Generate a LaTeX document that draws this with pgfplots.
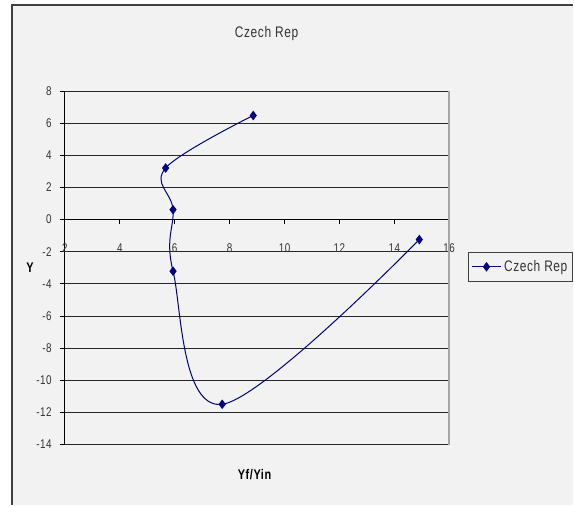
\documentclass[border=0pt]{standalone}
\usepackage{pgfplots}
\pgfplotsset{compat=1.18}
\usepackage{fontspec}
\setmainfont{Liberation Sans}[FakeStretch=0.78, LetterSpace=4]

\definecolor{chartbg}{HTML}{F2F2F2}
\definecolor{framegray}{HTML}{404040}
\definecolor{plotright}{HTML}{A6A6A6}
\definecolor{seriesblue}{HTML}{000080}

% Yf/Yin against Y
\pgfplotstableread{
x y
8.86 6.48
5.67 3.21
5.94 0.62
5.94 -3.21
7.73 -11.49
14.91 -1.24
}\czechdata

\begin{document}
\begin{tikzpicture}
% page and chart area
\fill[white] (0pt,0pt) rectangle (430.5pt,-379.5pt);
\fill[chartbg] (9.375pt,-3.75pt) rectangle (430.5pt,-379.5pt);
\draw[framegray, line width=1.5pt] (9.375pt,-379.5pt) -- (9.375pt,-3.75pt) -- (430.5pt,-3.75pt);
\path[use as bounding box] (0pt,0pt) rectangle (430.5pt,-379.5pt);

\begin{axis}[
  at={(48.75pt,-334.05pt)}, anchor=south west,
  scale only axis, width=288.75pt, height=265.65pt,
  xmin=2, xmax=16, ymin=-14, ymax=8,
  axis y line=left, axis x line=middle,
  axis line style={-, black, line width=0.8pt},
  hide obscured x ticks=false,
  xtick={2,4,...,16}, ytick={-14,-12,...,8},
  tick align=outside, major tick length=3.5pt,
  tick style={black, line width=0.8pt},
  ymajorgrids=true,
  grid style={black!85, line width=0.8pt},
  /pgf/number format/assume math mode=true,
  ticklabel style={font=\fontsize{9.5}{11}\selectfont, text=black!80},
  xticklabel style={anchor=center, yshift=-18pt},
  yticklabel style={anchor=east, xshift=-3pt},
  title={Czech Rep},
  title style={at={(0.5247,1.139)}, anchor=center, font=\fontsize{11.5}{13}\selectfont, text=black!80},
  xlabel={Yf/Yin},
  xlabel style={at={(axis description cs:0.4935,-0.0847)}, anchor=center, font=\bfseries\fontsize{10.5}{12}\selectfont},
  ylabel={Y},
  ylabel style={at={(axis description cs:-0.091,0.501)}, anchor=center, rotate=-90, font=\bfseries\fontsize{10.5}{12}\selectfont},
  legend style={at={(1.050,0.503)}, anchor=west, draw=framegray, fill=chartbg,
    line width=0.75pt, inner xsep=2pt, inner ysep=4pt,
    font=\fontsize{11.5}{13}\selectfont, text=black!80},
  legend image code/.code={%
    \draw[mark repeat=2, mark phase=2] plot coordinates {(0cm,0cm) (0.38cm,0cm) (0.76cm,0cm)};},
  clip=false,
]
\addplot[seriesblue, line width=0.75pt, smooth, tension=0.6,
  mark=diamond*, mark size=3pt, mark options={solid, fill=seriesblue}]
  table[x=x, y=y] {\czechdata};
\addlegendentry{Czech Rep}
\draw[plotright, line width=1.2pt] (rel axis cs:1,0) -- (rel axis cs:1,1);
\end{axis}
\end{tikzpicture}
\end{document}
